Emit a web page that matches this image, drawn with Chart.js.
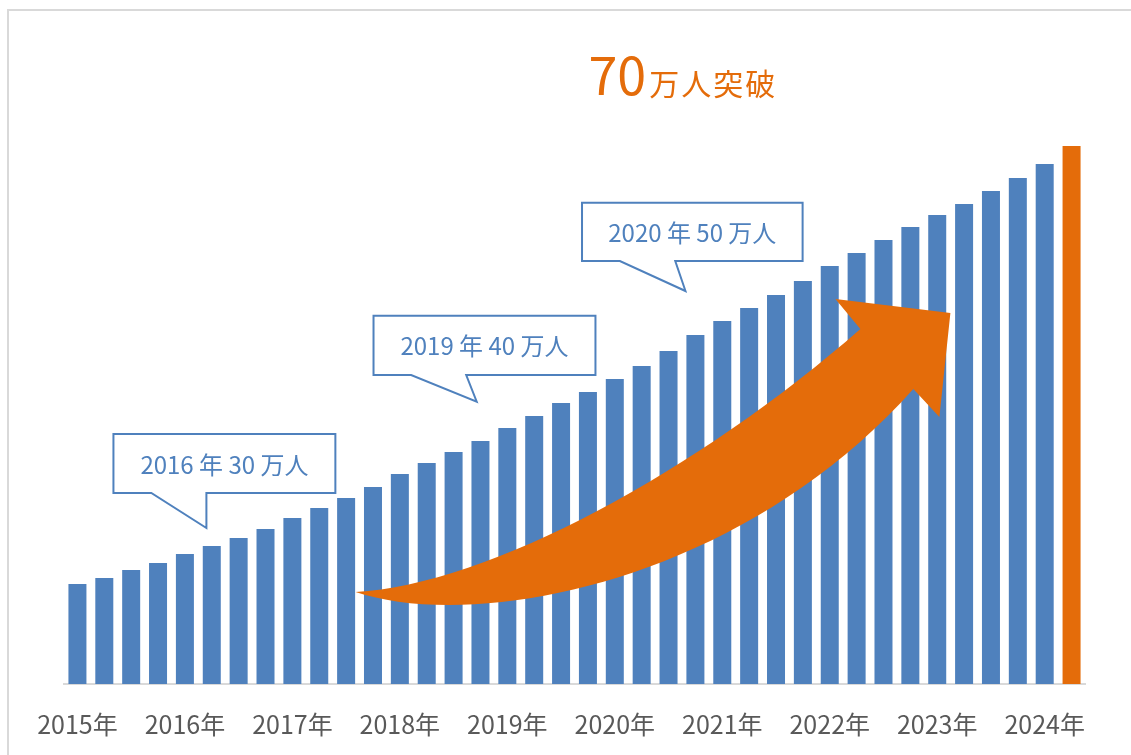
<!DOCTYPE html>
<html lang="ja">
<head>
<meta charset="utf-8">
<title>70万人突破</title>
<script src="https://cdn.jsdelivr.net/npm/chart.js@4.4.1/dist/chart.umd.min.js"></script>
<style>
  html, body { margin: 0; padding: 0; background: #fff; overflow: hidden; }
  #frame {
    position: absolute; left: 7px; top: 9px; width: 2000px; height: 2000px;
    border-left: 2px solid #d9d9d9; border-top: 2px solid #d9d9d9;
  }
  #wrap { position: absolute; left: 0; top: 0; width: 1131px; height: 755px; }
</style>
</head>
<body>
<div id="frame"></div>
<div id="wrap"><canvas id="chart" width="1131" height="755"></canvas></div>
<script>
// year labels shown under the axis (one per 4 quarters)
const tickYears = ['2015年', '2016年', '2017年', '2018年', '2019年', '2020年', '2021年', '2022年', '2023年', '2024年'];

// quarterly totals, unit: 万人 (2015 Q1 .. 2024 Q2)
const visitors = [
    26.2, 26.8, 27.6, 28.3,
    29.2, 30.0, 30.8, 31.7,
    32.8, 33.8, 34.8, 35.9,
    37.2, 38.3, 39.4, 40.5,
    41.8, 43.0, 44.3, 45.4,
    46.7, 48.0, 49.5, 51.1,
    52.5, 53.8, 55.1, 56.5,
    58.0, 59.3, 60.6, 61.9,
    63.1, 64.2, 65.5, 66.8,
    68.2, 70.0
];

// category labels built from the years above
const categories = visitors.map((v, i) => tickYears[Math.floor(i / 4)] + (i % 4 + 1) + 'Q');

const blue = '#4f81bd';
const orange = '#e46c0a';

// callouts: box corners and tail in data space (category index, 万人)
const callouts = [
    { text: '2016 年 30 万人', left: 1.34, right: 9.60, top: 41.2, bottom: 35.3, tailL: 2.75, tailR: 4.80, tip: [4.80, 31.8] },
    { text: '2019 年 40 万人', left: 11.02, right: 19.28, top: 53.03, bottom: 47.1, tailL: 12.42, tailR: 14.47, tip: [14.86, 44.43] },
    { text: '2020 年 50 万人', left: 18.78, right: 26.99, top: 64.33, bottom: 58.5, tailL: 20.19, tailR: 22.25, tip: [22.63, 55.5] }
];

// big growth arrow, also in data space
const arrow = {
    tail: [10.35, 25.4],
    lowC1: [14.8, 21.4], lowC2: [24.64, 26.2], lowEnd: [31.11, 45.7],
    barbLow: [32.08, 42.9], head: [32.49, 53.3], barbUp: [28.21, 54.7],
    upStart: [29.14, 51.7], upC1: [23.15, 37.6], upC2: [15.33, 26.1]
};

const headline = { at: [19.02, 75.1], big: '70', small: '万人突破' };

const decorations = {
    id: 'decorations',
    afterDatasetsDraw(chart) {
        const ctx = chart.ctx;
        const xs = chart.scales.x, ys = chart.scales.y;
        const X = i => xs.getPixelForValue(i);
        const Y = v => ys.getPixelForValue(v);
        const P = p => [X(p[0]), Y(p[1])];

        // arrow
        ctx.save();
        ctx.fillStyle = orange;
        ctx.beginPath();
        ctx.moveTo(...P(arrow.tail));
        ctx.bezierCurveTo(...P(arrow.lowC1), ...P(arrow.lowC2), ...P(arrow.lowEnd));
        ctx.lineTo(...P(arrow.barbLow));
        ctx.lineTo(...P(arrow.head));
        ctx.lineTo(...P(arrow.barbUp));
        ctx.lineTo(...P(arrow.upStart));
        ctx.bezierCurveTo(...P(arrow.upC1), ...P(arrow.upC2), ...P(arrow.tail));
        ctx.closePath();
        ctx.fill();
        ctx.restore();

        // callout boxes
        callouts.forEach(c => {
            const l = X(c.left), r = X(c.right), t = Y(c.top), b = Y(c.bottom);
            ctx.save();
            ctx.beginPath();
            ctx.moveTo(l, t);
            ctx.lineTo(r, t);
            ctx.lineTo(r, b);
            ctx.lineTo(X(c.tailR), b);
            ctx.lineTo(...P(c.tip));
            ctx.lineTo(X(c.tailL), b);
            ctx.lineTo(l, b);
            ctx.closePath();
            ctx.fillStyle = '#fff';
            ctx.fill();
            ctx.lineWidth = 2;
            ctx.lineJoin = 'miter';
            ctx.strokeStyle = blue;
            ctx.stroke();
            ctx.fillStyle = blue;
            ctx.font = '24px "Noto Sans CJK JP", sans-serif';
            ctx.textAlign = 'center';
            ctx.textBaseline = 'middle';
            ctx.fillText(c.text, (l + r) / 2, (t + b) / 2 + 1);
            ctx.restore();
        });

        // headline
        ctx.save();
        const hx = X(headline.at[0]), hy = Y(headline.at[1]);
        ctx.fillStyle = orange;
        ctx.textBaseline = 'alphabetic';
        ctx.textAlign = 'left';
        ctx.font = '52px "Noto Sans CJK JP", sans-serif';
        ctx.fillText(headline.big, hx, hy);
        const w = ctx.measureText(headline.big).width;
        ctx.font = '30px "Noto Sans CJK JP", sans-serif';
        ctx.letterSpacing = '2px';
        ctx.fillText(headline.small, hx + w + 3, hy);
        ctx.restore();
    }
};

const ctx = document.getElementById('chart').getContext('2d');
const chart = new Chart(ctx, {
    type: 'bar',
    data: {
        labels: categories,
        datasets: [{
            label: '人数（万人）',
            data: visitors,
            backgroundColor: visitors.map((v, i) => i === visitors.length - 1 ? orange : blue),
            borderWidth: 0,
            barPercentage: 0.67,
            categoryPercentage: 1
        }]
    },
    options: {
        responsive: false,
        animation: false,
        layout: { padding: { left: 64, right: 46, top: 84, bottom: 0 } },
        plugins: {
            legend: { display: false },
            tooltip: { enabled: false }
        },
        scales: {
            x: {
                grid: { display: false, drawTicks: false },
                border: { display: true, color: '#d9d9d9', width: 2 },
                ticks: {
                    autoSkip: false,
                    maxRotation: 0,
                    minRotation: 0,
                    padding: 25,
                    color: '#595959',
                    font: { family: '"Noto Sans CJK JP", sans-serif', size: 25 },
                    callback: (val, idx) => idx % 4 === 0 ? tickYears[idx / 4] : ''
                },
                afterFit: scale => { scale.height = 71; }
            },
            y: {
                display: false,
                min: 16.2,
                max: 76.2
            }
        }
    },
    plugins: [decorations]
});
</script>
</body>
</html>
